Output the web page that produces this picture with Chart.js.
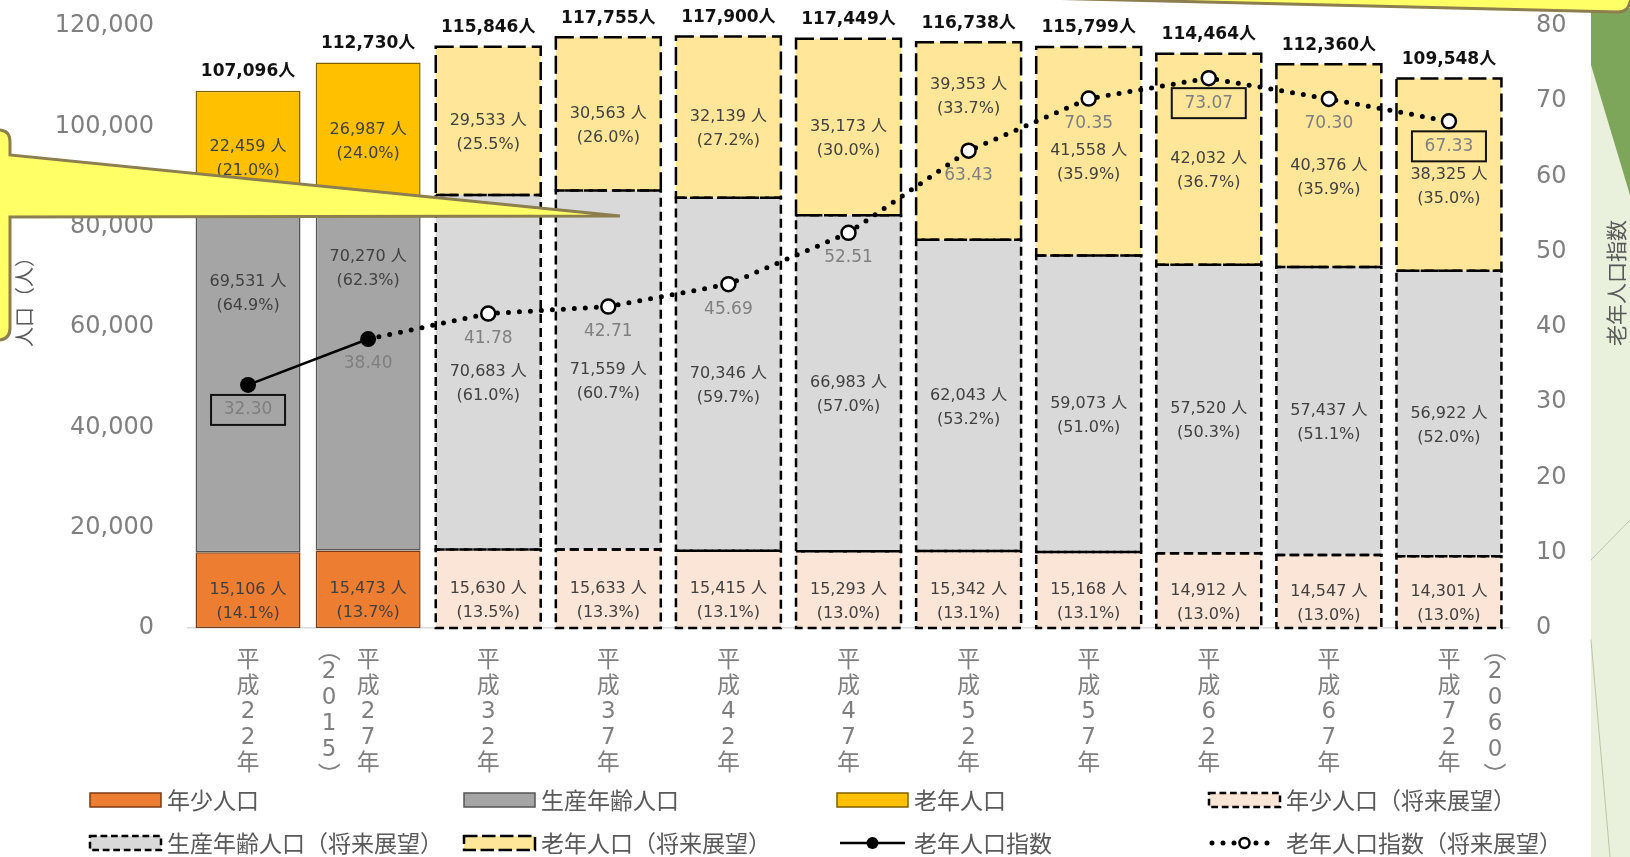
<!DOCTYPE html>
<html lang="ja">
<head>
<meta charset="utf-8">
<title>人口の推移と将来展望</title>
<script src="https://cdn.jsdelivr.net/npm/chart.js@4.4.1/dist/chart.umd.min.js"></script>
<style>
  html, body { margin: 0; padding: 0; background: #fff; overflow: hidden; }
  #wrap { position: relative; width: 1630px; height: 857px; }
</style>
</head>
<body>
<div id="wrap"><canvas id="popChart"></canvas></div>
<script>
// 年次（縦書きで表示）
const years = ["平成22年", "平成27年", "平成32年", "平成37年", "平成42年", "平成47年",
  "平成52年", "平成57年", "平成62年", "平成67年", "平成72年"];
const westernYears = ["", "2015", "", "", "", "", "", "", "", "", "2060"];
const projStart = 2; // 平成32年以降は将来展望

// 人口（人）
const young = [15106, 15473, 15630, 15633, 15415, 15293, 15342, 15168, 14912, 14547, 14301];
const working = [69531, 70270, 70683, 71559, 70346, 66983, 62043, 59073, 57520, 57437, 56922];
const elderly = [22459, 26987, 29533, 30563, 32139, 35173, 39353, 41558, 42032, 40376, 38325];
const totals = [107096, 112730, 115846, 117755, 117900, 117449, 116738, 115799, 114464, 112360, 109548];

// 構成比（%）
const youngPct = [14.1, 13.7, 13.5, 13.3, 13.1, 13.0, 13.1, 13.1, 13.0, 13.0, 13.0];
const workingPct = [64.9, 62.3, 61.0, 60.7, 59.7, 57.0, 53.2, 51.0, 50.3, 51.1, 52.0];
const elderlyPct = [21.0, 24.0, 25.5, 26.0, 27.2, 30.0, 33.7, 35.9, 36.7, 35.9, 35.0];

// 老年人口指数
const elderlyIndex = [32.30, 38.40, 41.78, 42.71, 45.69, 52.51, 63.43, 70.35, 73.07, 70.30, 67.33];

// 目盛り
const popTicks = [0, 20000, 40000, 60000, 80000, 100000, 120000];
const indexTicks = [0, 10, 20, 30, 40, 50, 60, 70, 80];

const NUM_FONT = "'DejaVu Sans', 'Noto Sans CJK JP', sans-serif";
const JP_FONT = "'Noto Sans CJK JP', sans-serif";
const boxedIdx = [0, 8, 10]; // 枠付きで示す指数

function actualOnly(arr) { return arr.map((v, i) => i < projStart ? v : null); }
function projOnly(arr) { return arr.map((v, i) => i >= projStart ? v : null); }
function fmt(n) { return n.toLocaleString("en-US"); }

// dashed outlines + value labels for bar segments
const barExtras = {
  id: "barExtras",
  afterDatasetDraw(chart, args) {
    if (args.index !== 0) return; // last bar dataset drawn
    const ctx = chart.ctx;
    const yIdx = chart.scales.y1;
    ctx.save();
    chart.data.datasets.forEach((ds, di) => {
      if (ds.type === "line") return;
      const meta = chart.getDatasetMeta(di);
      meta.data.forEach((bar, i) => {
        if (ds.data[i] == null) return;
        const p = bar.getProps(["x", "y", "base", "width"], true);
        const left = p.x - p.width / 2;
        if (ds.dash) {
          ctx.setLineDash(ds.dash);
          ctx.lineWidth = 2.5;
          ctx.strokeStyle = "#000";
          ctx.strokeRect(left, p.y, p.width, p.base - p.y);
          ctx.setLineDash([]);
        }
        // labels: avoid the index marker if it sits in the middle
        const mid = (p.y + p.base) / 2;
        const py = yIdx.getPixelForValue(elderlyIndex[i]);
        let cy = mid + 12;
        if (Math.abs(mid - py) < 45) cy = (p.y + py) / 2;
        ctx.fillStyle = "#404040";
        ctx.font = "16px " + NUM_FONT;
        ctx.textAlign = "center";
        ctx.textBaseline = "middle";
        ctx.fillText(fmt(ds.data[i]) + " 人", p.x, cy - 12);
        ctx.fillText("(" + ds.pct[i].toFixed(1) + "%)", p.x, cy + 12);
      });
    });
    ctx.restore();
  },
  afterDatasetsDraw(chart) {
    const ctx = chart.ctx;
    const xs = chart.scales.x;
    const ys = chart.scales.y;
    const yIdx = chart.scales.y1;
    ctx.save();
    ctx.textAlign = "center";
    ctx.textBaseline = "middle";
    // index labels
    elderlyIndex.forEach((v, i) => {
      const x = xs.getPixelForValue(i);
      const y = yIdx.getPixelForValue(v) + 25;
      ctx.font = "17px " + NUM_FONT;
      ctx.fillStyle = "#7f7f7f";
      ctx.fillText(v.toFixed(2), x, y);
      if (boxedIdx.includes(i)) {
        ctx.lineWidth = 2;
        ctx.strokeStyle = "#111";
        ctx.strokeRect(x - 37, y - 15, 74, 30);
      }
    });
    // totals
    totals.forEach((t, i) => {
      const x = xs.getPixelForValue(i);
      const y = ys.getPixelForValue(young[i] + working[i] + elderly[i]) - 19;
      ctx.font = "bold 17px " + NUM_FONT;
      ctx.fillStyle = "#111";
      ctx.fillText(fmt(t) + "人", x, y);
    });
    ctx.restore();
  }
};

// western year notes beside the vertical labels, axis titles, legend, overlays
const decor = {
  id: "decor",
  afterDraw(chart) {
    const ctx = chart.ctx;
    const xs = chart.scales.x;
    ctx.save();

    // （2015） / （2060）
    ctx.fillStyle = "#7f7f7f";
    ctx.textAlign = "center";
    ctx.textBaseline = "middle";
    westernYears.forEach((w, i) => {
      if (!w) return;
      const x = xs.getPixelForValue(i) + (i < years.length / 2 ? -39 : 46);
      ctx.font = "23px " + JP_FONT;
      ctx.fillText("︵", x, 649);
      ctx.font = "23px " + NUM_FONT;
      Array.from(w).forEach((c, k) => ctx.fillText(c, x, 672 + k * 26));
      ctx.font = "23px " + JP_FONT;
      ctx.fillText("︶", x, 774);
    });

    // axis titles
    ctx.fillStyle = "#595959";
    ctx.font = "20px " + JP_FONT;
    ctx.save();
    ctx.translate(24, 297);
    ctx.rotate(-Math.PI / 2);
    ctx.fillText("人口（人）", 0, 0);
    ctx.restore();

    // legend in a 4 x 2 grid
    const colX = [90, 464, 837, 1209];
    const rowY = [800, 843];
    chart.data.datasets.forEach((ds, di) => {
      const x = colX[di % 4];
      const y = rowY[Math.floor(di / 4)];
      const w = 71;
      if (ds.type === "line") {
        ctx.strokeStyle = "#000";
        ctx.lineCap = ds.borderCapStyle || "butt";
        ctx.lineWidth = ds.borderWidth;
        ctx.setLineDash(ds.borderDash || []);
        ctx.beginPath();
        ctx.moveTo(x + 3, y);
        ctx.lineTo(x + w - 3, y);
        ctx.stroke();
        ctx.setLineDash([]);
        ctx.beginPath();
        ctx.arc(x + w / 2, y, ds.borderDash ? 5 : 6, 0, Math.PI * 2);
        ctx.fillStyle = ds.pointBackgroundColor;
        ctx.fill();
        if (ds.borderDash) { ctx.lineWidth = 2.5; ctx.stroke(); }
      } else {
        ctx.fillStyle = ds.backgroundColor;
        ctx.fillRect(x, y - 7, w, 14);
        if (ds.dash) {
          ctx.setLineDash(ds.dash.map(d => d * 0.75));
          ctx.lineWidth = 2.5;
          ctx.strokeStyle = "#000";
        } else {
          ctx.lineWidth = 1.5;
          ctx.strokeStyle = ds.borderColor;
        }
        ctx.strokeRect(x, y - 7, w, 14);
        ctx.setLineDash([]);
      }
      ctx.fillStyle = "#595959";
      ctx.font = "23px " + JP_FONT;
      ctx.textAlign = "left";
      ctx.fillText(ds.label, x + w + 6, y);
    });

    // slide decorations: green stripe and callouts
    ctx.fillStyle = "#e9f0dc";
    ctx.fillRect(1591, 0, 39, 857);
    ctx.strokeStyle = "#b9c6a8";
    ctx.lineWidth = 1;
    ctx.beginPath();
    ctx.moveTo(1591, 560); ctx.lineTo(1630, 520);
    ctx.moveTo(1591, 640); ctx.lineTo(1610, 857);
    ctx.stroke();
    ctx.fillStyle = "#7ea65a";
    ctx.beginPath();
    ctx.moveTo(1591, 8); ctx.lineTo(1630, 8); ctx.lineTo(1630, 195); ctx.lineTo(1591, 65);
    ctx.closePath();
    ctx.fill();

    ctx.fillStyle = "#595959";
    ctx.font = "21px " + JP_FONT;
    ctx.textAlign = "center";
    ctx.save();
    ctx.translate(1616, 283);
    ctx.rotate(-Math.PI / 2);
    ctx.fillText("老年人口指数", 0, 0);
    ctx.restore();

    ctx.fillStyle = "#ffff66";
    ctx.strokeStyle = "#8c7e4e";
    ctx.lineWidth = 3;
    ctx.beginPath();
    ctx.moveTo(1040, -2);
    ctx.lineTo(1618, 12);
    ctx.quadraticCurveTo(1628, 12, 1630, 2);
    ctx.lineTo(1632, -2);
    ctx.closePath();
    ctx.fill();
    ctx.stroke();

    ctx.beginPath();
    ctx.moveTo(-20, 130);
    ctx.lineTo(-2, 130);
    ctx.quadraticCurveTo(10, 130, 10, 142);
    ctx.lineTo(10, 155);
    ctx.lineTo(620, 216);
    ctx.lineTo(10, 217);
    ctx.lineTo(10, 328);
    ctx.quadraticCurveTo(10, 340, -2, 340);
    ctx.lineTo(-20, 340);
    ctx.closePath();
    ctx.fill();
    ctx.stroke();

    ctx.restore();
  }
};

// fixed axis sizes so the plot area lands where the original is
function fixVertical(width) {
  return s => { s.width = width; s.paddingTop = 0; s.paddingBottom = 0; };
}

Chart.defaults.font.family = NUM_FONT;

new Chart(document.getElementById("popChart"), {
  type: "bar",
  data: {
    labels: years,
    datasets: [
      { label: "年少人口", data: actualOnly(young), pct: youngPct,
        backgroundColor: "#ed7d31", borderColor: "#7a3b12", borderWidth: 1.5, order: 1 },
      { label: "生産年齢人口", data: actualOnly(working), pct: workingPct,
        backgroundColor: "#a5a5a5", borderColor: "#555555", borderWidth: 1.5, order: 1 },
      { label: "老年人口", data: actualOnly(elderly), pct: elderlyPct,
        backgroundColor: "#ffc000", borderColor: "#7f6000", borderWidth: 1.5, order: 1 },
      { label: "年少人口（将来展望）", data: projOnly(young), pct: youngPct,
        backgroundColor: "#fbe5d6", borderWidth: 0, dash: [9, 5], order: 1 },
      { label: "生産年齢人口（将来展望）", data: projOnly(working), pct: workingPct,
        backgroundColor: "#d9d9d9", borderWidth: 0, dash: [9, 5], order: 1 },
      { label: "老年人口（将来展望）", data: projOnly(elderly), pct: elderlyPct,
        backgroundColor: "#ffe699", borderWidth: 0, dash: [18, 6], order: 1 },
      { type: "line", label: "老年人口指数", yAxisID: "y1", order: 0,
        data: elderlyIndex.map((v, i) => i < projStart ? v : null),
        borderColor: "#000", borderWidth: 2.5,
        pointRadius: 8, pointBackgroundColor: "#000", pointBorderWidth: 0 },
      { type: "line", label: "老年人口指数（将来展望）", yAxisID: "y1", order: 0,
        data: elderlyIndex.map((v, i) => i >= projStart - 1 ? v : null),
        borderColor: "#000", borderWidth: 5, borderDash: [0, 11], borderCapStyle: "round",
        pointRadius: ctx => ctx.dataIndex >= projStart ? 7 : 0,
        pointBackgroundColor: "#fff", pointBorderColor: "#000", pointBorderWidth: 2.5 }
    ]
  },
  options: {
    responsive: true,
    maintainAspectRatio: false,
    devicePixelRatio: 1,
    animation: false,
    events: [],
    layout: { padding: { left: 55, right: 0, top: 26, bottom: 0 } },
    datasets: { bar: { categoryPercentage: 0.874, barPercentage: 1, borderSkipped: false } },
    plugins: { legend: { display: false }, tooltip: { enabled: false } },
    scales: {
      x: {
        stacked: true,
        grid: { display: false, drawTicks: false },
        border: { display: true, color: "#d9d9d9", width: 1.5 },
        ticks: {
          color: "#7f7f7f", autoSkip: false, maxRotation: 0, padding: 20,
          font: { size: 23, lineHeight: 1.12 },
          callback(v) { return Array.from(this.getLabelForValue(v)); }
        },
        afterFit(s) { s.height = 229; }
      },
      y: {
        stacked: true,
        min: popTicks[0], max: popTicks[popTicks.length - 1],
        grid: { display: false, drawTicks: false },
        border: { display: false },
        ticks: { stepSize: popTicks[1] - popTicks[0], color: "#7f7f7f", padding: 34,
          font: { size: 24 }, callback: v => fmt(v) },
        afterFit: fixVertical(133)
      },
      y1: {
        position: "right",
        min: indexTicks[0], max: indexTicks[indexTicks.length - 1],
        grid: { display: false, drawTicks: false },
        border: { display: false },
        ticks: { stepSize: indexTicks[1] - indexTicks[0], color: "#7f7f7f", padding: 27,
          font: { size: 24 } },
        afterFit: fixVertical(121)
      }
    }
  },
  plugins: [barExtras, decor]
});
</script>
</body>
</html>
